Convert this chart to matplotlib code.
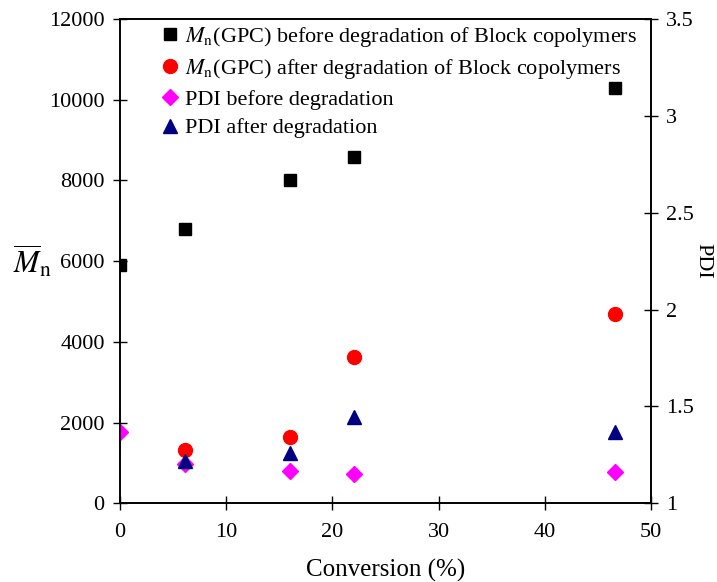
import matplotlib
matplotlib.use("Agg")
import matplotlib.pyplot as plt

plt.rcParams['font.family'] = ['Liberation Serif', 'DejaVu Serif']
plt.rcParams['mathtext.fontset'] = 'stix'

conversion = [0, 6.1, 16, 22, 46.6]
mn_before = [5900, 6800, 8000, 8580, 10300]
conv_after = [6.1, 16, 22, 46.6]
mn_after = [1320, 1650, 3630, 4700]
pdi_before = [1.37, 1.203, 1.168, 1.15, 1.16]
pdi_after = [1.218, 1.258, 1.447, 1.367]

labels = [r"$M_\mathrm{n}$(GPC) before degradation of Block copolymers",
          r"$M_\mathrm{n}$(GPC) after degradation of Block copolymers",
          "PDI before degradation",
          "PDI after degradation"]

fig = plt.figure(figsize=(7.17, 5.82), dpi=100)
ax = fig.add_axes([0.1674, 0.1352, 0.908 - 0.1674, 0.9674 - 0.1352])
ax2 = ax.twinx()

h1, = ax.plot(conversion, mn_before, linestyle='none', marker='s', color='black', markersize=9, label=labels[0])
h2, = ax.plot(conv_after, mn_after, linestyle='none', marker='o', color='red', markersize=10, label=labels[1])
h3, = ax2.plot(conversion, pdi_before, linestyle='none', marker='D', color='magenta', markersize=8, label=labels[2])
h4, = ax2.plot(conv_after, pdi_after, linestyle='none', marker='^', color='navy', markersize=10.5, label=labels[3])

ax.set_xlim(0, 50)
ax.set_ylim(0, 12000)
ax2.set_ylim(1, 3.5)
ax.set_xticks([0, 10, 20, 30, 40, 50])
ax.set_yticks(range(0, 12001, 2000))
ax2.set_yticks([1, 1.5, 2, 2.5, 3, 3.5])
ax2.set_yticklabels(['1', '1.5', '2', '2.5', '3', '3.5'])

for a in (ax, ax2):
    a.tick_params(direction='inout', length=10, width=1, labelsize=16)
    for s in a.spines.values():
        s.set_linewidth(1.2)
ax.tick_params(axis='x', pad=9)
ax.tick_params(axis='y', pad=6)
ax2.tick_params(axis='y', pad=6)

ax.set_xlabel("Conversion (%)", fontsize=18, labelpad=12)
ax.set_ylabel(r"$\overline{M}_\mathrm{n}$", fontsize=22, rotation=0, labelpad=12, va='center')
ax2.set_ylabel("PDI", fontsize=16, rotation=270, labelpad=6, va='center')

fig.legend(handles=[h1, h2, h3, h4], labels=labels, loc='upper left',
           bbox_to_anchor=(0.207, 0.972), frameon=False, fontsize=16,
           handletextpad=0.15, handlelength=1.1, labelspacing=0.36, borderaxespad=0)

fig.savefig("out.png", dpi=100)
